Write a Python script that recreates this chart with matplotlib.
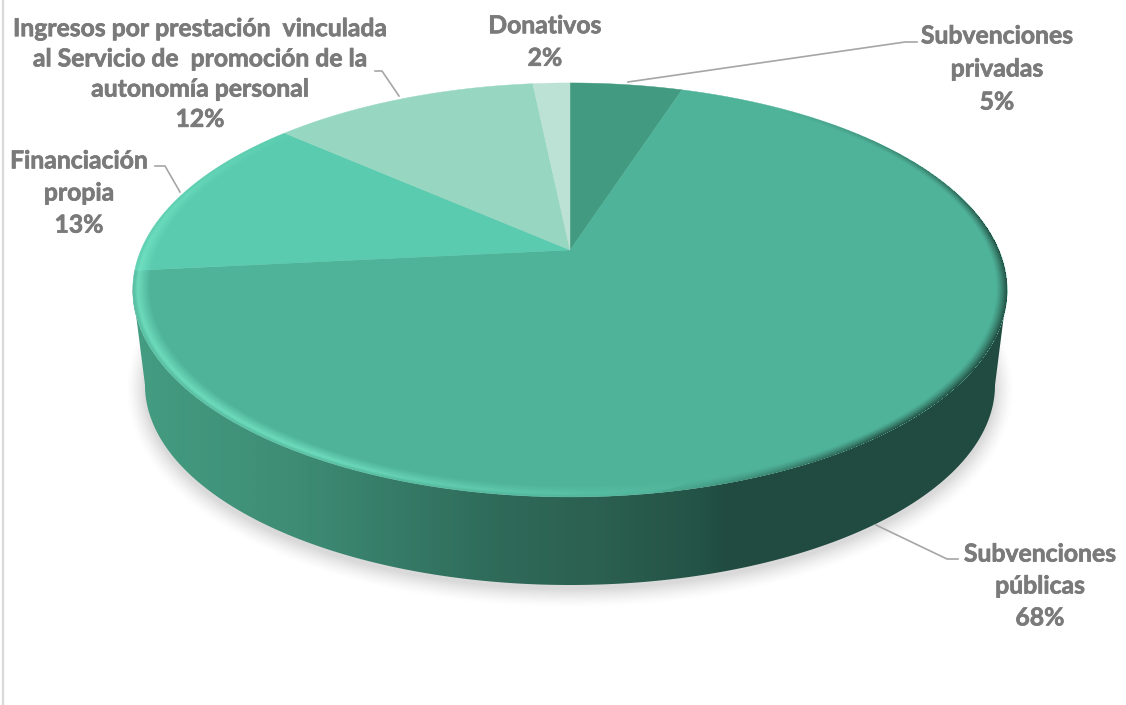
import numpy as np
import matplotlib
matplotlib.use("Agg")
import matplotlib.pyplot as plt
import matplotlib.patheffects as pe
from matplotlib.patches import Polygon
from matplotlib.colors import LinearSegmentedColormap

# ---- data ----
categories = ["Subvenciones\nprivadas", "Subvenciones\npúblicas", "Financiación\npropia",
              "Ingresos por prestación  vinculada\nal Servicio de  promoción de la\nautonomía personal",
              "Donativos"]
values = [5.0, 68.4, 13.1, 11.85, 1.65]
colors = ["#429a80", "#4fb399", "#5acbae", "#97d7c2", "#bbe2d5"]

W, H = 1126, 705
CX, CY, A, B, K = 570, 250, 199.3, 429, 0.193
BOT = (570, 385, 425, 200)


def project(a):
    X, Y = np.sin(a), np.cos(a)
    w = 1 + K * Y
    return CX + B * X / w, CY - A * Y / w


fig = plt.figure(figsize=(W / 100, H / 100), dpi=100, facecolor="white")
ax = fig.add_axes([0, 0, 1, 1])
ax.set_axis_off()
ys, xs = np.mgrid[0:H, 0:W] + 0.5

# soft shadow beneath the pie
dx, dy = xs - BOT[0], ys - BOT[1] - 4
d = np.hypot(dx / BOT[2], dy / BOT[3]) + 1e-6
grad = np.hypot(dx / BOT[2] ** 2, dy / BOT[3] ** 2) / d + 1e-9
sd = (d - 1) / grad
sh = np.zeros((H, W, 4))
sh[..., 3] = 0.15 * np.clip(1 - sd / 20, 0, 1) ** 1.5
ax.imshow(sh, extent=(0, W, H, 0), aspect="auto", zorder=1)

# side wall
a_front = np.radians(np.linspace(101, 259, 400))
a_bot = np.linspace(3 * np.pi / 2, np.pi / 2, 400)
wall_pts = np.vstack([
    np.c_[project(a_front)[0], project(a_front)[1]],
    np.c_[BOT[0] + BOT[2] * np.sin(a_bot), BOT[1] - BOT[3] * np.cos(a_bot)],
])
wall = Polygon(wall_pts, closed=True, fc="none", ec="none", zorder=2)
ax.add_patch(wall)
stops = [(0.0, "#439b80"), (0.02, "#439b80"), (0.19, "#3e8c74"), (0.31, "#357a66"),
         (0.42, "#2f6a59"), (0.53, "#2c6050"), (0.65, "#235346"), (0.68, "#214b40"),
         (1.0, "#214b40")]
cmap = LinearSegmentedColormap.from_list("side", stops)
grad_img = np.linspace(0, 1, 900)[None, :]
im = ax.imshow(grad_img, extent=(130, 1010, 600, 250), cmap=cmap, aspect="auto", zorder=2)
im.set_clip_path(wall)

# top face slices, drawn from the values
cum = np.cumsum([0] + values) / sum(values) * 2 * np.pi
for s, e, c in zip(cum[:-1], cum[1:], colors):
    a = np.linspace(s, e, 300)
    px, py = project(a)
    ax.add_patch(Polygon(np.vstack([[CX, CY], np.c_[px, py]]), closed=True,
                         fc=c, ec=c, lw=0.3, zorder=3))

# bevel along the rim
v = (CY - ys) / A
Y = v / (1 - K * v)
w = 1 + K * Y
X = (xs - CX) * w / B
r = np.hypot(X, Y)
deg = np.degrees(np.mod(np.arctan2(X, Y), 2 * np.pi))
inside = (r <= 1.0) & (w > 0)
prof_l = np.clip((r - 0.962) / 0.030, 0, 1) * np.clip((1.0 - r) / 0.012, 0.35, 1)
prof_d = np.clip((r - 0.975) / 0.025, 0, 1) ** 1.3
light = np.clip((deg - 165) / 45, 0, 1) * np.clip((320 - deg) / 60, 0, 1)
dark = np.clip((deg - 35) / 50, 0, 1) * np.clip((172 - deg) / 30, 0, 1)
bev = np.zeros((H, W, 4))
la = prof_l * light * 0.85
da = prof_d * dark * 0.95
bev[..., 0] = np.where(la >= da, 0x78 / 255, 0x21 / 255)
bev[..., 1] = np.where(la >= da, 0xe8 / 255, 0x4b / 255)
bev[..., 2] = np.where(la >= da, 0xc8 / 255, 0x40 / 255)
bev[..., 3] = np.where(inside, np.maximum(la, da), 0)
ax.imshow(bev, extent=(0, W, H, 0), aspect="auto", zorder=4, interpolation="bilinear")

# leader lines
leaders = [([628, 905, 917], [82, 42, 42]),
           ([399, 382, 375], [96, 71, 71]),
           ([180, 165, 155], [192, 166, 166]),
           ([876, 947, 958], [525, 559, 559])]
for lx, ly in leaders:
    ax.plot(lx, ly, color="#a6a6a6", lw=1.2, zorder=5, solid_joinstyle="round")

# labels
label_pos = [(997, 69, 1.53), (1040, 586, 1.47), (79, 193, 1.48), (200, 74, 1.38), (545, 42, 1.5)]
for cat, val, (lx, ly, ls) in zip(categories, values, label_pos):
    txt = ax.text(lx, ly, f"{cat}\n{val:.0f}%", ha="center", va="center", family="Lato",
                  fontweight="bold", fontsize=17.8, color="#7a7a7a", linespacing=ls, zorder=6)
    txt.set_path_effects([pe.withStroke(linewidth=0.5, foreground="#7a7a7a")])

# chart frame remnant on the left
ax.plot([3, 3], [0, H], color="#d9d9d9", lw=1.6, zorder=6)

ax.set_xlim(0, W)
ax.set_ylim(H, 0)
fig.savefig("out.png", dpi=100)
